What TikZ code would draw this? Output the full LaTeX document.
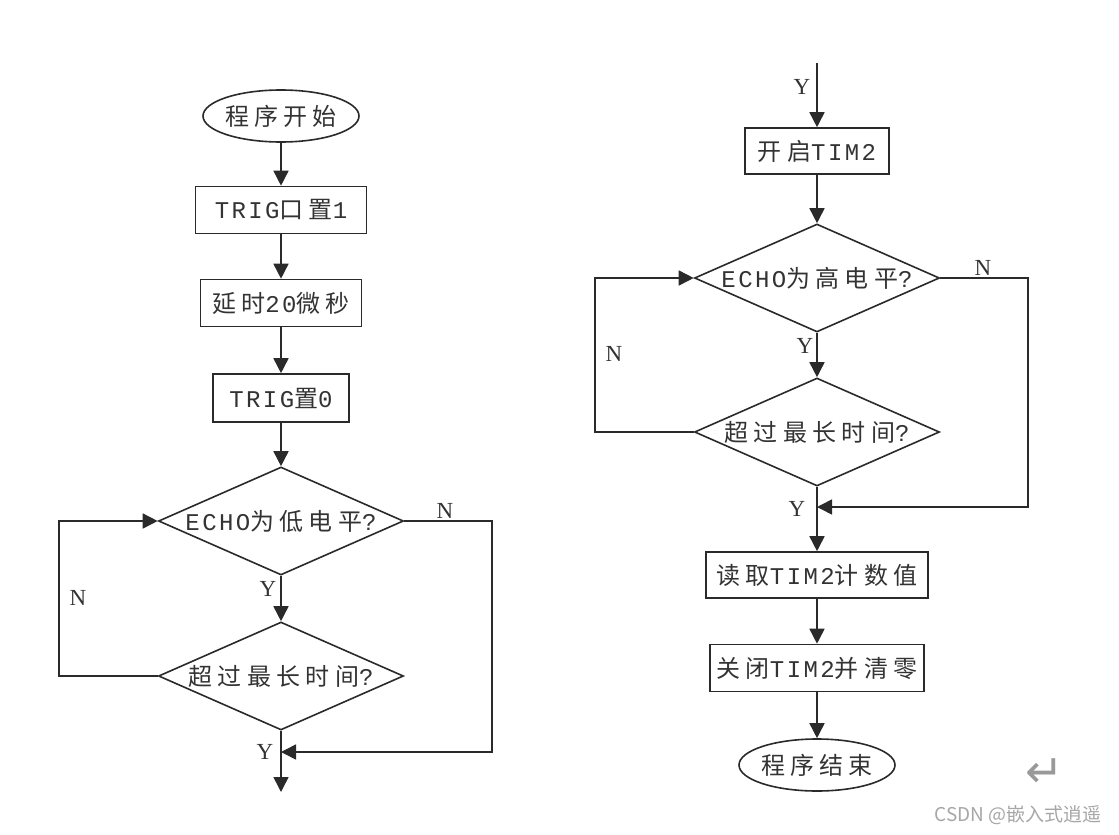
\documentclass[tikz,border=0pt]{standalone}
\usepackage{fontspec}
\usetikzlibrary{shapes.geometric,arrows.meta}
\setmainfont{Liberation Serif}
\newfontfamily\cjkf[LetterSpace=22]{Noto Sans CJK SC}
\newfontfamily\monof[LetterSpace=10]{Liberation Mono}
\newfontfamily\wmf{Noto Sans CJK SC}
\newfontfamily\symf{DejaVu Sans}
\newcommand\zh[1]{{\cjkf #1}}
\newcommand\la[1]{{\monof #1}}
\definecolor{lc}{HTML}{2A2A2A}
\definecolor{tc}{HTML}{333333}
\begin{document}
\begin{tikzpicture}[x=1pt,y=-1pt,
  base/.style={draw=lc, line width=1.6pt, inner sep=0pt, text=tc, font=\fontsize{24}{28}\selectfont},
  proc/.style={base, rectangle},
  term/.style={base, ellipse, minimum width=156pt, minimum height=52pt},
  dec/.style={base, diamond, minimum width=245pt, minimum height=108pt},
  conn/.style={draw=lc, line width=1.6pt},
  arr/.style={conn, -{Triangle[length=15pt,width=15pt]}},
  lab/.style={text=tc, inner sep=0pt, font=\fontsize{23}{26}\selectfont}
]
\useasboundingbox (0,0) rectangle (1119,835);

% ---------- left column ----------
\node[term] (s) at (281,116) {\makebox[0pt][c]{\zh{程序开始}}};
\node[proc, minimum width=171pt, minimum height=47pt] (b1) at (281,210) {\makebox[0pt][c]{\la{TRIG}\zh{口置}\la{1}}};
\node[proc, minimum width=161pt, minimum height=47pt] (b2) at (281,303) {\makebox[0pt][c]{\zh{延时}\la{20}\zh{微秒}}};
\node[proc, minimum width=136pt, minimum height=48pt] (b3) at (281,398) {\makebox[0pt][c]{\la{TRIG}\zh{置}\la{0}}};
\node[dec] (d1) at (281,521) {\makebox[0pt][c]{\la{ECHO}\zh{为低电平}\la{?}}};
\node[dec] (d2) at (281,676) {\makebox[0pt][c]{\zh{超过最长时间}\la{?}}};
\coordinate (l1) at (59,676);
\coordinate (r1) at (492,521);
\coordinate (j1) at (281,752);
\coordinate (e1) at (281,792);

\draw[arr] (s.south) -- (b1.north);
\draw[arr] (b1.south) -- (b2.north);
\draw[arr] (b2.south) -- (b3.north);
\draw[arr] (b3.south) -- (d1.north);
\draw[arr] (d1.south) -- (d2.north);
\draw[arr] (d2.west) -- (l1) |- (d1.west);
\draw[arr] (d1.east) -- (r1) |- (j1);
\draw[arr] (d2.south) -- (e1);

\node[lab] (n1) at (445,511) {N};
\node[lab] (n2) at (78,598) {N};
\node[lab] (y1) at (268,589) {Y};
\node[lab] (y2) at (265,752) {Y};

% ---------- right column ----------
\coordinate (t2) at (817,63);
\node[proc, minimum width=144pt, minimum height=46pt] (b4) at (817,151) {\makebox[0pt][c]{\zh{开启}\la{TIM2}}};
\node[dec] (d3) at (817,278) {\makebox[0pt][c]{\la{ECHO}\zh{为高电平}\la{?}}};
\node[dec] (d4) at (817,432) {\makebox[0pt][c]{\zh{超过最长时间}\la{?}}};
\node[proc, minimum width=222pt, minimum height=46pt] (b5) at (817,575) {\makebox[0pt][c]{\zh{读取}\la{TIM2}\zh{计数值}}};
\node[proc, minimum width=214pt, minimum height=47pt] (b6) at (817,668) {\makebox[0pt][c]{\zh{关闭}\la{TIM2}\zh{并清零}}};
\node[term] (e2) at (817,765) {\makebox[0pt][c]{\zh{程序结束}}};
\coordinate (l2) at (595,432);
\coordinate (r2) at (1028,278);
\coordinate (j2) at (817,507);

\draw[arr] (t2) -- (b4.north);
\draw[arr] (b4.south) -- (d3.north);
\draw[arr] (d3.south) -- (d4.north);
\draw[arr] (d4.west) -- (l2) |- (d3.west);
\draw[arr] (d3.east) -- (r2) |- (j2);
\draw[arr] (d4.south) -- (b5.north);
\draw[arr] (b5.south) -- (b6.north);
\draw[arr] (b6.south) -- (e2.north);

\node[lab] (y3) at (802,87) {Y};
\node[lab] (n3) at (983,268) {N};
\node[lab] (n4) at (614,354) {N};
\node[lab] (y4) at (805,346) {Y};
\node[lab] (y5) at (797,509) {Y};

% ---------- extras ----------
\node[text=gray!80, inner sep=0pt, font=\symf\fontsize{46}{48}\selectfont] (ret) at (1045,773) {↵};
\node[text=gray!70, inner sep=0pt, font=\wmf\fontsize{19}{21}\selectfont] (wm) at (1018,815) {CSDN @嵌入式逍遥};
\end{tikzpicture}
\end{document}
